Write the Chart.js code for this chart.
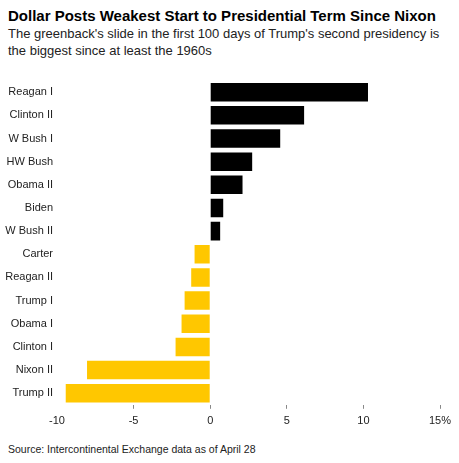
<!DOCTYPE html>
<html>
<head>
<meta charset="utf-8">
<script src="https://cdn.jsdelivr.net/npm/chart.js@4"></script>
<style>
  body { margin: 0; background: #fff; width: 459px; height: 463px; overflow: hidden; font-family: "Liberation Sans", Arial, sans-serif; color: #000; }
  #title { position: absolute; left: 8px; top: 7px; font-weight: bold; font-size: 15px; white-space: nowrap; }
  #subtitle { position: absolute; left: 8px; top: 26px; font-size: 13px; line-height: 16.5px; color: #222; width: 450px; }
  #wrap { position: absolute; left: 0; top: 70px; width: 459px; height: 366px; }
  #source { position: absolute; left: 8px; top: 443px; font-size: 10.5px; color: #222; white-space: nowrap; }
</style>
</head>
<body>
<div id="title">Dollar Posts Weakest Start to Presidential Term Since Nixon</div>
<div id="subtitle">The greenback's slide in the first 100 days of Trump's second presidency is the biggest since at least the 1960s</div>
<div id="wrap"><canvas id="chart"></canvas></div>
<div id="source">Source: Intercontinental Exchange data as of April 28</div>
<script>
// Presidential terms, top to bottom
const terms = ["Reagan I", "Clinton II", "W Bush I", "HW Bush", "Obama II", "Biden", "W Bush II",
  "Carter", "Reagan II", "Trump I", "Obama I", "Clinton I", "Nixon II", "Trump II"];

// Dollar change in first 100 days, %
const change = [10.3, 6.13, 4.57, 2.74, 2.11, 0.85, 0.65,
  -1.02, -1.24, -1.67, -1.87, -2.26, -8.04, -9.43];

// x axis ticks
const xTicks = [-10, -5, 0, 5, 10, 15];

const up = "#000000";
const down = "#FFC700";

new Chart(document.getElementById("chart"), {
  type: "bar",
  data: {
    labels: terms,
    datasets: [{
      data: change,
      backgroundColor: change.map(v => v >= 0 ? up : down),
      categoryPercentage: 1,
      barPercentage: 0.8
    }]
  },
  options: {
    indexAxis: "y",
    responsive: true,
    maintainAspectRatio: false,
    animation: false,
    layout: { padding: { top: 8, right: 19, bottom: 2, left: 0 } },
    plugins: { legend: { display: false }, tooltip: { enabled: false } },
    scales: {
      x: {
        min: xTicks[0],
        max: xTicks[xTicks.length - 1],
        afterBuildTicks: axis => { axis.ticks = xTicks.map(v => ({ value: v })); },
        border: { display: false },
        grid: {
          drawOnChartArea: false,
          drawTicks: true,
          tickLength: 4,
          color: ctx => ctx.tick && ctx.tick.value === -10 ? "rgba(0,0,0,0)" : "#888"
        },
        ticks: {
          padding: 6,
          color: "#222",
          font: { family: "Liberation Sans", size: 11 },
          callback: v => v === 15 ? "15%" : v
        }
      },
      y: {
        afterFit: axis => { axis.width = 57; },
        border: { display: false },
        grid: { display: false, drawTicks: false },
        ticks: {
          padding: 4,
          color: "#222",
          font: { family: "Liberation Sans", size: 11 }
        }
      }
    }
  }
});
</script>
</body>
</html>
